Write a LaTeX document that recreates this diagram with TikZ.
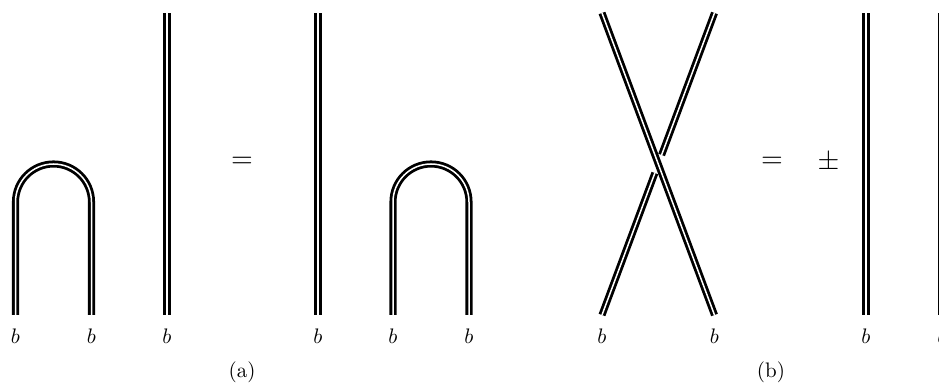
\documentclass[tikz,border=0pt]{standalone}
\usetikzlibrary{calc}
\tikzset{
  strand/.style={draw=black,line width=1.4pt,double=white,double distance=0.75pt,line cap=butt},
  leglabel/.style={inner sep=0pt,font=\normalsize,scale=1.05},
  relation/.style={inner sep=0pt,scale=1.4},
  caption/.style={inner sep=0pt,scale=1.05}
}
\begin{document}
\begin{tikzpicture}[x=0.5pt,y=0.5pt]
\useasboundingbox (0,0) rectangle (939,385);
\clip (0,0) rectangle (939,385);
% labels
\foreach \n/\x in {a/15.5,b/91.5,c/167,d/318,e/393,f/469,g/602,h/714.5,i/866,j/942}
  \node[leglabel] (lab\n) at (\x,49) {$b$};
\node[relation] (eqa) at (242,222.5) {$=$};
\node[relation] (eqb) at (772,222.5) {$=$};
\node[relation] (pm) at (828.5,222.5) {$\pm$};
\node[caption] (capa) at (242,13) {(a)};
\node[caption] (capb) at (771,13) {(b)};
% left-hand cup
\coordinate (a0) at (15.5,70);
\coordinate (a1) at (15.5,183);
\coordinate (b0) at (91.5,70);
\draw[strand] (a0) -- (a1) arc[start angle=180,end angle=0,radius=19pt] -- (b0);
\coordinate (c0) at (167,70);
\coordinate (c1) at (167,372);
\draw[strand] (c0) -- (c1);
% right-hand cup
\coordinate (d0) at (318,70);
\coordinate (d1) at (318,372);
\draw[strand] (d0) -- (d1);
\coordinate (e0) at (393,70);
\coordinate (e1) at (393,183);
\coordinate (f0) at (469,70);
\draw[strand] (e0) -- (e1) arc[start angle=180,end angle=0,radius=19pt] -- (f0);
% crossing
\coordinate (g0) at (602,372);
\coordinate (h0) at (714.5,70);
\coordinate (g1) at (602,70);
\coordinate (h1) at (714.5,372);
\draw[strand] (g0) -- (h0);
\draw[strand] (h1) -- ($(h1)!0.47!(g1)$);
\draw[strand] ($(h1)!0.53!(g1)$) -- (g1);
% identity strands
\coordinate (i0) at (866,70);
\coordinate (i1) at (866,372);
\draw[strand] (i0) -- (i1);
\coordinate (j0) at (942,70);
\coordinate (j1) at (942,372);
\draw[strand] (j0) -- (j1);
\end{tikzpicture}
\end{document}
